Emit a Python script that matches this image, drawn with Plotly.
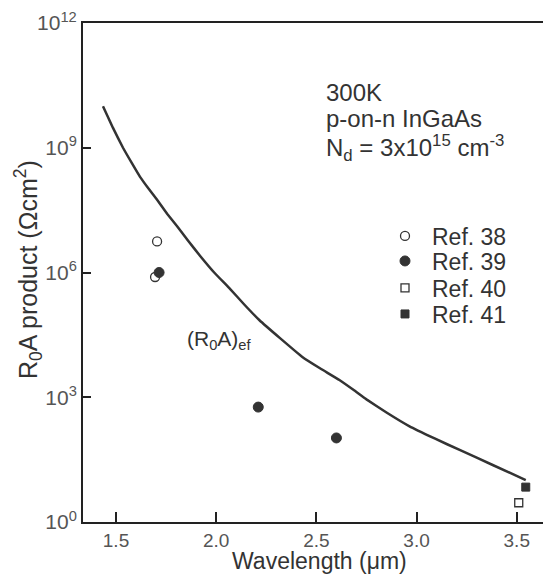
import plotly.graph_objects as go

# Theoretical curve (R0A)ef
curve_wl = [1.435, 1.485, 1.535, 1.58, 1.62, 1.665, 1.705, 1.755, 1.805, 1.86, 1.92, 1.99, 2.07, 2.14, 2.215, 2.32, 2.43, 2.52, 2.615, 2.69, 2.75, 2.85, 2.965, 3.09, 3.215, 3.38, 3.545]
curve_ra = [1.0e10, 3.0e9, 1.0e9, 4.2e8, 2.0e8, 1.0e8, 5.6e7, 2.6e7, 1.3e7, 5.8e6, 2.5e6, 1.0e6, 4.0e5, 1.7e5, 7.2e4, 2.6e4, 9.3e3, 4.9e3, 2.6e3, 1.45e3, 8.9e2, 4.3e2, 2.0e2, 1.02e2, 54, 23.5, 10.2]

ref38_wl = [1.695, 1.705]
ref38_ra = [7.8e5, 5.6e6]
ref39_wl = [1.715, 2.21, 2.6]
ref39_ra = [1.0e6, 5.8e2, 1.05e2]
ref40_wl = [3.51]
ref40_ra = [2.9]
ref41_wl = [3.545]
ref41_ra = [6.9]

x_ticks = [1.5, 2.0, 2.5, 3.0, 3.5]
x_ticktext = ["1.5", "2.0", "2.5", "3.0", "3.5"]
y_ticks = [1, 1e3, 1e6, 1e9, 1e12]
y_ticktext = ["10<sup>0</sup>", "10<sup>3</sup>", "10<sup>6</sup>", "10<sup>9</sup>", "10<sup>12</sup>"]

FONT = "Liberation Sans, Arial, sans-serif"
DARK = "#333333"

# page body has an 8px margin; layout below is expressed in window pixels
OFF = 8
W, H = 551 - OFF, 576 - OFF
L, R, T, B = 83 - OFF, 0, 23 - OFF, 54
PW, PH = W - L - R, H - T - B

def px(xs):
    return (xs - OFF - L) / PW

def py(ys):
    return (H - B - (ys - OFF)) / PH

fig = go.Figure()
fig.add_trace(go.Scatter(x=curve_wl, y=curve_ra, mode="lines", line=dict(color=DARK, width=2.5, shape="spline", smoothing=0.3),
                         showlegend=False, hoverinfo="skip"))
fig.add_trace(go.Scatter(x=ref38_wl, y=ref38_ra, mode="markers", name="Ref. 38", legend="legend",
                         marker=dict(symbol="circle", size=9, color="white", line=dict(color=DARK, width=1.3))))
fig.add_trace(go.Scatter(x=ref39_wl, y=ref39_ra, mode="markers", name="Ref. 39", legend="legend2",
                         marker=dict(symbol="circle", size=10, color=DARK, line=dict(color=DARK, width=1))))
fig.add_trace(go.Scatter(x=ref40_wl, y=ref40_ra, mode="markers", name="Ref. 40", legend="legend3",
                         marker=dict(symbol="square", size=8, color="white", line=dict(color=DARK, width=1.3))))
fig.add_trace(go.Scatter(x=ref41_wl, y=ref41_ra, mode="markers", name="Ref. 41", legend="legend4",
                         marker=dict(symbol="square", size=8, color=DARK, line=dict(color=DARK, width=1))))

annots = [
    dict(text="300K", x=px(324), y=py(92), size=24),
    dict(text="p-on-n InGaAs", x=px(324), y=py(119), size=24),
    dict(text="N<sub>d</sub> = 3x10<sup>15</sup> cm<sup>-3</sup>", x=px(324), y=py(148), size=24),
    dict(text="(R<sub>0</sub>A)<sub>ef</sub>", x=px(185), y=py(340), size=21),
]
for a in annots:
    fig.add_annotation(text=a["text"], x=a["x"], y=a["y"], xref="paper", yref="paper",
                       xanchor="left", yanchor="middle", showarrow=False,
                       font=dict(family=FONT, size=a["size"], color=DARK))

fig.add_annotation(text="R<sub>0</sub>A product (Ωcm<sup>2</sup>)", x=px(28), y=py(270), xref="paper", yref="paper",
                   textangle=-90, showarrow=False, xanchor="center", yanchor="middle",
                   font=dict(family=FONT, size=25, color=DARK))
fig.add_annotation(text="Wavelength (μm)", x=px(319), y=py(561), xref="paper", yref="paper",
                   showarrow=False, xanchor="center", yanchor="middle",
                   font=dict(family=FONT, size=23, color=DARK))

leg_common = dict(xanchor="left", yanchor="middle", bgcolor="rgba(0,0,0,0)",
                  font=dict(family=FONT, size=23, color=DARK), itemwidth=44)
fig.update_layout(
    width=W, height=H,
    margin=dict(l=L, r=R, t=T, b=B, pad=0, autoexpand=False),
    paper_bgcolor="white", plot_bgcolor="white",
    font=dict(family=FONT, color=DARK),
    xaxis=dict(range=[1.3353, 3.671], tickmode="array", tickvals=x_ticks, ticktext=x_ticktext,
               ticks="inside", ticklen=10, tickwidth=2, tickcolor="#222", automargin=False,
               showline=True, linecolor="#222", linewidth=2, mirror=True, showgrid=False, zeroline=False,
               tickfont=dict(family=FONT, size=19, color="#555")),
    yaxis=dict(type="log", range=[0, 12], tickmode="array", tickvals=y_ticks, ticktext=y_ticktext,
               ticks="inside", ticklen=8, tickwidth=2, tickcolor="#222", automargin=False,
               showline=True, linecolor="#222", linewidth=2, showgrid=False, zeroline=False,
               tickfont=dict(family=FONT, size=21, color="#555")),
    legend=dict(x=px(378), y=py(236), **leg_common),
    legend2=dict(x=px(378), y=py(261), **leg_common),
    legend3=dict(x=px(378), y=py(288), **leg_common),
    legend4=dict(x=px(378), y=py(314), **leg_common),
)

fig.write_html("out.html")
